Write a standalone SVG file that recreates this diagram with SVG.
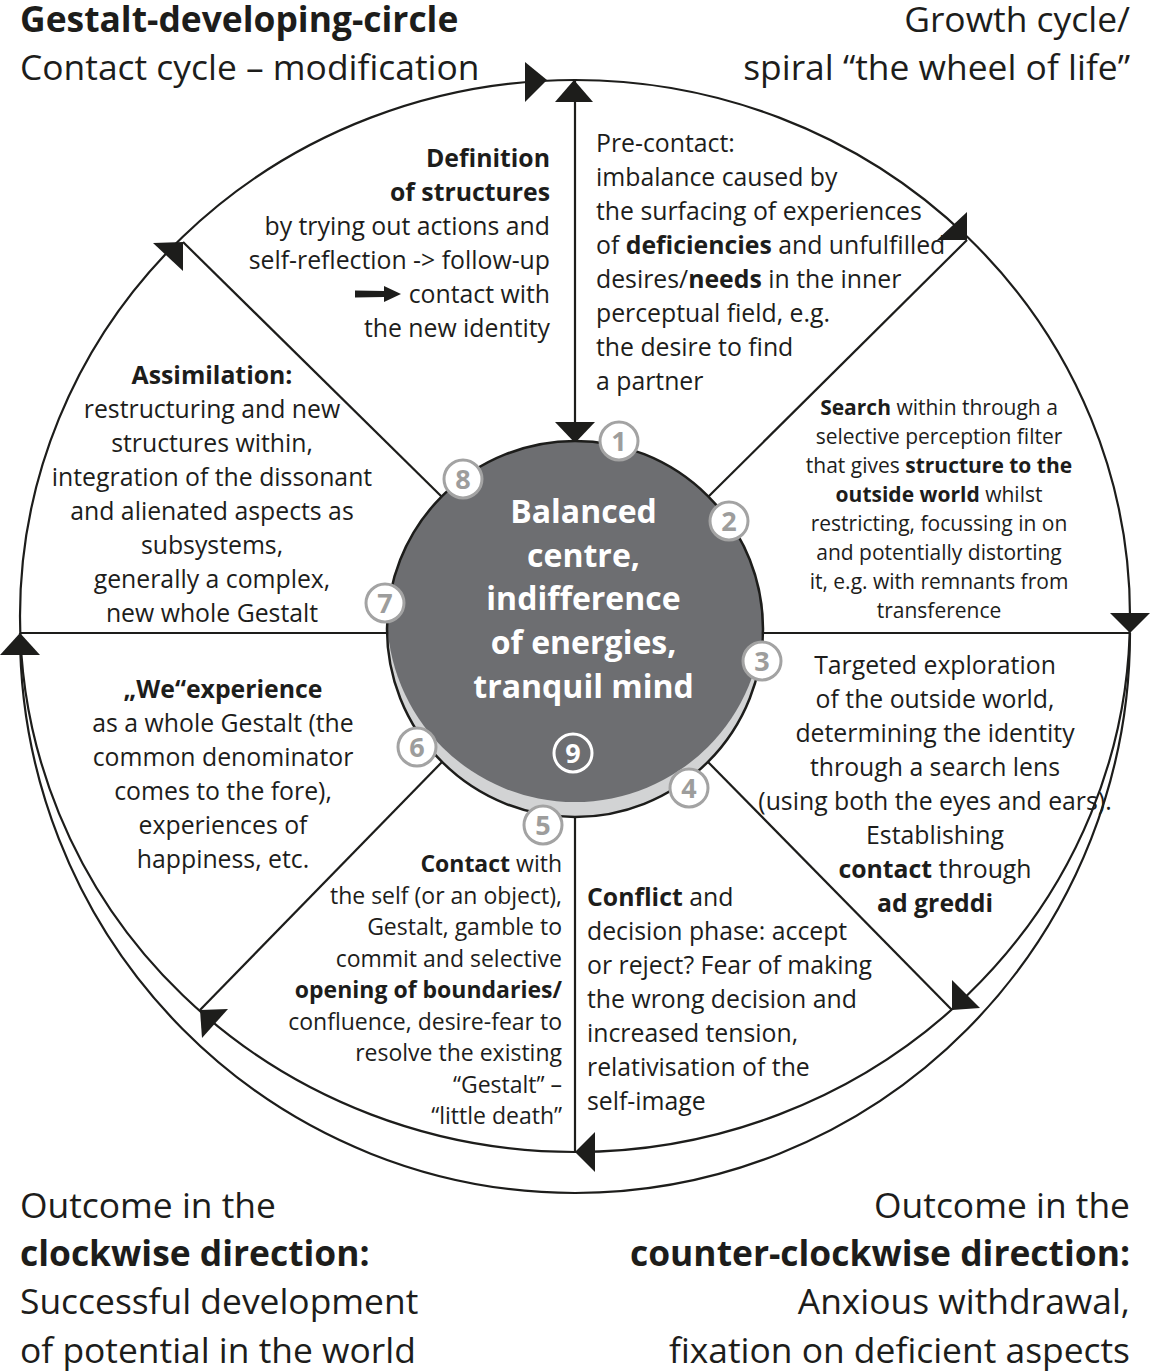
<svg xmlns="http://www.w3.org/2000/svg" width="1154" height="1371" viewBox="0 0 1154 1371">
<style>
.t{font-family:"Open Sans","Liberation Sans",sans-serif;fill:#1d1d1b}
.h{font-size:35.4px}
.m{font-size:24.8px}
.s{font-size:21px}
.c{font-size:23px}
.b{font-weight:700}
.ln{fill:none;stroke:#1d1d1b;stroke-width:2.2}
.ah{fill:#1d1d1b}
.badge{fill:#fff;stroke:#a3a3a3;stroke-width:3}
.num{font-family:"Open Sans","Liberation Sans",sans-serif;font-size:27px;font-weight:700;fill:#9d9d9c;text-anchor:middle}
.ct{font-family:"Open Sans","Liberation Sans",sans-serif;font-size:32px;font-weight:700;fill:#fff;text-anchor:middle}
</style>
<defs>
<clipPath id="discClip"><circle cx="575" cy="629" r="188"/></clipPath>
</defs>
<rect width="1154" height="1371" fill="#fff"/>

<g id="connectors">
<ellipse class="ln" cx="575" cy="616" rx="555" ry="536"/>
<path class="ln" d="M20,633 A555,560 0 0 0 1130,633"/>
<line class="ln" x1="575" y1="80" x2="575" y2="440"/>
<line class="ln" x1="708" y1="497" x2="967" y2="240"/>
<line class="ln" x1="763" y1="633" x2="1130" y2="633"/>
<line class="ln" x1="708" y1="762" x2="952" y2="1010"/>
<line class="ln" x1="575" y1="816" x2="575" y2="1152"/>
<line class="ln" x1="442" y1="762" x2="200" y2="1010"/>
<line class="ln" x1="20" y1="633" x2="387" y2="633"/>
<line class="ln" x1="442" y1="497" x2="183" y2="242"/>
<polygon class="ah" points="525,62 525,102 547,80"/>
<polygon class="ah" points="555,102 593,102 574,80"/>
<polygon class="ah" points="555,422 595,422 575,443"/>
<polygon class="ah" points="967,212 967,240 937,240"/>
<polygon class="ah" points="1110,613 1150,613 1130,633"/>
<polygon class="ah" points="952,980 980,1008 952,1010"/>
<polygon class="ah" points="595,1132 595,1172 575,1152"/>
<polygon class="ah" points="228,1009 202,1038 200,1010"/>
<polygon class="ah" points="0,655 40,655 20,633"/>
<polygon class="ah" points="153,243 183,271 183,242"/>
</g>

<g id="centre">
<circle cx="575" cy="629" r="188" fill="#d2d3d4"/>
<circle cx="575" cy="614" r="188" fill="#6d6e71" clip-path="url(#discClip)"/>
<circle cx="575" cy="629" r="188" fill="none" stroke="#1d1d1b" stroke-width="2.5"/>
<text class="ct" x="583.5" y="523">Balanced</text>
<text class="ct" x="583.5" y="567">centre,</text>
<text class="ct" x="583.5" y="610">indifference</text>
<text class="ct" x="583.5" y="654">of energies,</text>
<text class="ct" x="583.5" y="698">tranquil mind</text>
</g>

<g id="badges">
<g id="b1"><circle class="badge" cx="619" cy="441" r="19"/><text class="num" x="619" y="450.5">1</text></g>
<g id="b2"><circle class="badge" cx="729" cy="521" r="19"/><text class="num" x="729" y="530.5">2</text></g>
<g id="b3"><circle class="badge" cx="762" cy="661" r="19"/><text class="num" x="762" y="670.5">3</text></g>
<g id="b4"><circle class="badge" cx="689" cy="788" r="19"/><text class="num" x="689" y="797.5">4</text></g>
<g id="b5"><circle class="badge" cx="543" cy="825" r="19"/><text class="num" x="543" y="834.5">5</text></g>
<g id="b6"><circle class="badge" cx="417" cy="747" r="19"/><text class="num" x="417" y="756.5">6</text></g>
<g id="b7"><circle class="badge" cx="385" cy="603" r="19"/><text class="num" x="385" y="612.5">7</text></g>
<g id="b8"><circle class="badge" cx="463" cy="479" r="19"/><text class="num" x="463" y="488.5">8</text></g>
<g id="b9"><circle cx="573" cy="753" r="19" fill="#6d6e71" stroke="#fff" stroke-width="3"/><text class="num" x="573" y="762.5" style="fill:#fff">9</text></g>
</g>

<g id="headings" class="t h">
<text x="20" y="32" class="b">Gestalt-developing-circle</text>
<text x="20" y="80">Contact cycle – modification</text>
<text x="1130" y="32" text-anchor="end">Growth cycle/</text>
<text x="1130" y="80" text-anchor="end">spiral “the wheel of life”</text>
</g>

<g id="outcome-left" class="t h">
<text x="20" y="1218">Outcome in the</text>
<text x="20" y="1266" class="b">clockwise direction:</text>
<text x="20" y="1314">Successful development</text>
<text x="20" y="1363">of potential in the world</text>
</g>
<g id="outcome-right" class="t h" text-anchor="end">
<text x="1130" y="1218">Outcome in the</text>
<text x="1130" y="1266" class="b">counter-clockwise direction:</text>
<text x="1130" y="1314">Anxious withdrawal,</text>
<text x="1130" y="1363">fixation on deficient aspects</text>
</g>

<g id="sec-definition" class="t m" text-anchor="end">
<text x="550" y="167" class="b">Definition</text>
<text x="550" y="201" class="b">of structures</text>
<text x="550" y="235">by trying out actions and</text>
<text x="550" y="269">self-reflection -&gt; follow-up</text>
<text x="550" y="303">contact with</text>
<text x="550" y="337">the new identity</text>
<path d="M355,290.5 L384,291 L384,286 L401,294 L384,302 L384,297 L355,297.5 Z" fill="#1d1d1b"/>
</g>

<g id="sec-precontact" class="t m">
<text x="596" y="152">Pre-contact:</text>
<text x="596" y="186">imbalance caused by</text>
<text x="596" y="220">the surfacing of experiences</text>
<text x="596" y="254">of <tspan class="b">deficiencies</tspan> and unfulfilled</text>
<text x="596" y="288">desires/<tspan class="b">needs</tspan> in the inner</text>
<text x="596" y="322">perceptual field, e.g.</text>
<text x="596" y="356">the desire to find</text>
<text x="596" y="390">a partner</text>
</g>

<g id="sec-search" class="t s" text-anchor="middle">
<text x="939" y="415"><tspan class="b">Search</tspan> within through a</text>
<text x="939" y="444">selective perception filter</text>
<text x="939" y="473">that gives <tspan class="b">structure to the</tspan></text>
<text x="939" y="502"><tspan class="b">outside world</tspan> whilst</text>
<text x="939" y="531">restricting, focussing in on</text>
<text x="939" y="560">and potentially distorting</text>
<text x="939" y="589">it, e.g. with remnants from</text>
<text x="939" y="618">transference</text>
</g>

<g id="sec-targeted" class="t m" text-anchor="middle">
<text x="935" y="674">Targeted exploration</text>
<text x="935" y="708">of the outside world,</text>
<text x="935" y="742">determining the identity</text>
<text x="935" y="776">through a search lens</text>
<text x="935" y="810">(using both the eyes and ears).</text>
<text x="935" y="844">Establishing</text>
<text x="935" y="878"><tspan class="b">contact</tspan> through</text>
<text x="935" y="912" class="b">ad greddi</text>
</g>

<g id="sec-conflict" class="t m">
<text x="587" y="906"><tspan class="b">Conflict</tspan> and</text>
<text x="587" y="940">decision phase: accept</text>
<text x="587" y="974">or reject? Fear of making</text>
<text x="587" y="1008">the wrong decision and</text>
<text x="587" y="1042">increased tension,</text>
<text x="587" y="1076">relativisation of the</text>
<text x="587" y="1110">self-image</text>
</g>

<g id="sec-contact" class="t c" text-anchor="end">
<text x="562" y="872"><tspan class="b">Contact</tspan> with</text>
<text x="562" y="904">the self (or an object),</text>
<text x="562" y="935">Gestalt, gamble to</text>
<text x="562" y="967">commit and selective</text>
<text x="562" y="998" class="b">opening of boundaries/</text>
<text x="562" y="1030">confluence, desire-fear to</text>
<text x="562" y="1061">resolve the existing</text>
<text x="562" y="1093">“Gestalt” –</text>
<text x="562" y="1124">“little death”</text>
</g>

<g id="sec-we" class="t m" text-anchor="middle">
<text x="223" y="698" class="b">„We“experience</text>
<text x="223" y="732">as a whole Gestalt (the</text>
<text x="223" y="766">common denominator</text>
<text x="223" y="800">comes to the fore),</text>
<text x="223" y="834">experiences of</text>
<text x="223" y="868">happiness, etc.</text>
</g>

<g id="sec-assimilation" class="t m" text-anchor="middle">
<text x="212" y="384" class="b">Assimilation:</text>
<text x="212" y="418">restructuring and new</text>
<text x="212" y="452">structures within,</text>
<text x="212" y="486">integration of the dissonant</text>
<text x="212" y="520">and alienated aspects as</text>
<text x="212" y="554">subsystems,</text>
<text x="212" y="588">generally a complex,</text>
<text x="212" y="622">new whole Gestalt</text>
</g>
</svg>
